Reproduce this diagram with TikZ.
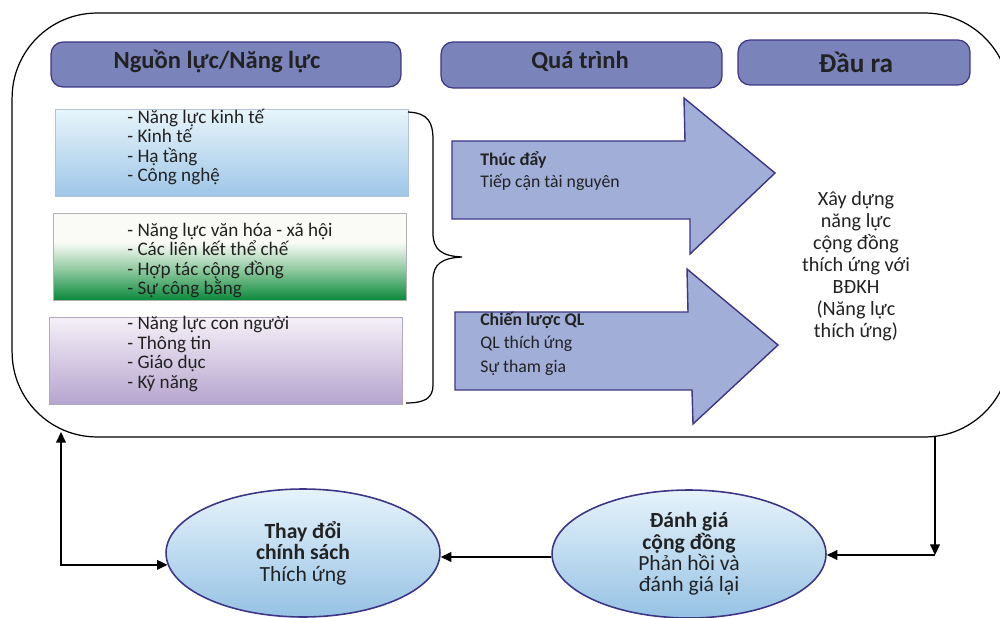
\documentclass[tikz,border=0pt]{standalone}
\usepackage{fontspec}
\setmainfont{Carlito}
\usetikzlibrary{shapes.geometric,arrows.meta}
\definecolor{hdr}{HTML}{7A84BA}
\definecolor{edge}{HTML}{3D3585}
\definecolor{arrowfill}{HTML}{A0AED8}
\definecolor{txt}{HTML}{222222}
\definecolor{btop}{HTML}{E8F5FB}
\definecolor{bbot}{HTML}{9EC6E7}
\definecolor{gtop}{HTML}{FAFBF7}
\definecolor{gmid}{HTML}{8CC79C}
\definecolor{gdark}{HTML}{0A8A3B}
\definecolor{ptop}{HTML}{F5F0F7}
\definecolor{pbot}{HTML}{B6A5CF}
\definecolor{etop}{HTML}{E6F3FB}
\definecolor{ebot}{HTML}{96C2E4}
\pgfdeclareverticalshading{greenshade}{100bp}{color(0bp)=(gdark); color(25bp)=(gdark); color(42bp)=(gmid); color(58bp)=(gtop); color(75bp)=(gtop); color(100bp)=(gtop)}
\begin{document}
\begin{tikzpicture}[x=0.02cm,y=-0.02cm,
  every node/.style={text=txt},
  hdrbox/.style={draw=edge, line width=0.7pt, fill=hdr, rounded corners=0.24cm, inner sep=0,
    font=\fontsize{14}{16}\selectfont\bfseries},
  resbox/.style={line width=0.5pt, minimum width=7.06cm, minimum height=1.74cm, inner sep=0},
  listtext/.style={align=left, anchor=west, inner sep=0, font=\fontsize{10.9}{11.1}\selectfont},
  bigarrow/.style={draw=edge, line width=0.8pt, fill=arrowfill, line join=miter},
  arrowtext/.style={align=left, anchor=west, inner sep=0},
  bubble/.style={ellipse, draw=edge, line width=0.9pt, top color=etop, bottom color=ebot,
    minimum width=5.48cm, minimum height=2.56cm, inner sep=0, align=center},
  conn/.style={line width=0.85pt, -{Triangle[length=6pt,width=5.5pt]}}
]
\useasboundingbox (0,0) rectangle (1000,618);
\clip (0,0) rectangle (1000,618);

% outer frame
\node[draw, line width=0.7pt, rounded corners=1.7cm, minimum width=19.96cm, minimum height=8.48cm, inner sep=0] (frame) at (511,225) {};

% headers
\node[hdrbox, minimum width=7cm, minimum height=0.9cm] (h1) at (226,64.5) {};
\node[inner sep=0, font=\fontsize{14}{16}\selectfont\bfseries] (h1t) at (217,61) {Nguồn lực/Năng lực};
\node[hdrbox, minimum width=5.62cm, minimum height=0.92cm] (h2) at (581.5,65) {};
\node[inner sep=0, font=\fontsize{14}{16}\selectfont\bfseries] (h2t) at (580,61) {Quá trình};
\node[hdrbox, minimum width=4.64cm, minimum height=0.9cm] (h3) at (854,62.5) {};
\node[inner sep=0, font=\fontsize{15.5}{17}\selectfont\bfseries] (h3t) at (856,62) {Đầu ra};

% resource boxes
\node[resbox, draw=bbot!80!black!60, top color=btop, bottom color=bbot] (b1) at (232,152.5) {};
\node[resbox, draw=gray!60, shading=greenshade] (b2) at (229.5,256.5) {};
\node[resbox, draw=pbot!80!black!70, top color=ptop, bottom color=pbot] (b3) at (225.5,360.5) {};

\node[listtext] (l1) at (127,147) {- Năng lực kinh tế\\- Kinh tế\\- Hạ tầng\\- Công nghệ};
\node[listtext] (l2) at (127,260.5) {- Năng lực văn hóa - xã hội\\- Các liên kết thể chế\\- Hợp tác cộng đồng\\- Sự công bằng};
\node[listtext] (l3) at (127,354) {- Năng lực con người\\- Thông tin\\- Giáo dục\\- Kỹ năng};

% brace
\coordinate (bt) at (408,112);
\coordinate (bm) at (462,257);
\coordinate (bb) at (406,403);
\draw[line width=0.7pt] (bt) .. controls (428,113) and (433,122) .. (433,140) -- (433,233)
  .. controls (433,250) and (442,256) .. (bm)
  .. controls (442,258) and (433,264) .. (433,280) -- (433,385)
  .. controls (433,398) and (425,403) .. (bb);

% process arrows
\draw[bigarrow] (452,141) -- (685,141) -- (684,98) -- (775,173) -- (690,254) -- (690,219) -- (452,219) -- cycle;
\draw[bigarrow] (455,312) -- (688,312) -- (687,269) -- (778,345) -- (693,424) -- (692,390) -- (455,390) -- cycle;

\node[arrowtext, font=\fontsize{10.1}{12.5}\selectfont] (t1) at (480,171) {\textbf{Thúc đẩy}\\Tiếp cận tài nguyên};
\node[arrowtext, font=\fontsize{10.1}{13.3}\selectfont] (t2) at (480,343.5) {\textbf{Chiến lược QL}\\QL thích ứng\\Sự tham gia};

% output
\node[align=center, inner sep=0, font=\fontsize{11.5}{12.5}\selectfont] (out) at (856,266)
  {Xây dựng\\năng lực\\cộng đồng\\thích ứng với\\BĐKH\\(Năng lực\\thích ứng)};

% ellipses
\node[bubble, font=\fontsize{12.3}{12.2}\selectfont] (e1) at (303,553) {\textbf{Thay đổi}\\\textbf{chính sách}\\Thích ứng};
\node[bubble, font=\fontsize{12.3}{12.2}\selectfont] (e2) at (689,554) {\textbf{Đánh giá}\\\textbf{cộng đồng}\\Phản hồi và\\đánh giá lại};

% connectors
\coordinate (c1) at (935,437);
\coordinate (c2) at (935,555);
\coordinate (c3) at (61,432);
\draw[conn] (c1) -- (c2);
\draw[conn] (c2) -- (e2.east |- c2);
\draw[conn] (e2.west |- 0,557) -- (e1.east |- 0,557);
\draw[line width=0.85pt, {Triangle[length=6pt,width=5.5pt]}-{Triangle[length=6pt,width=5.5pt]}] (c3) |- (e1.185);
\end{tikzpicture}
\end{document}
